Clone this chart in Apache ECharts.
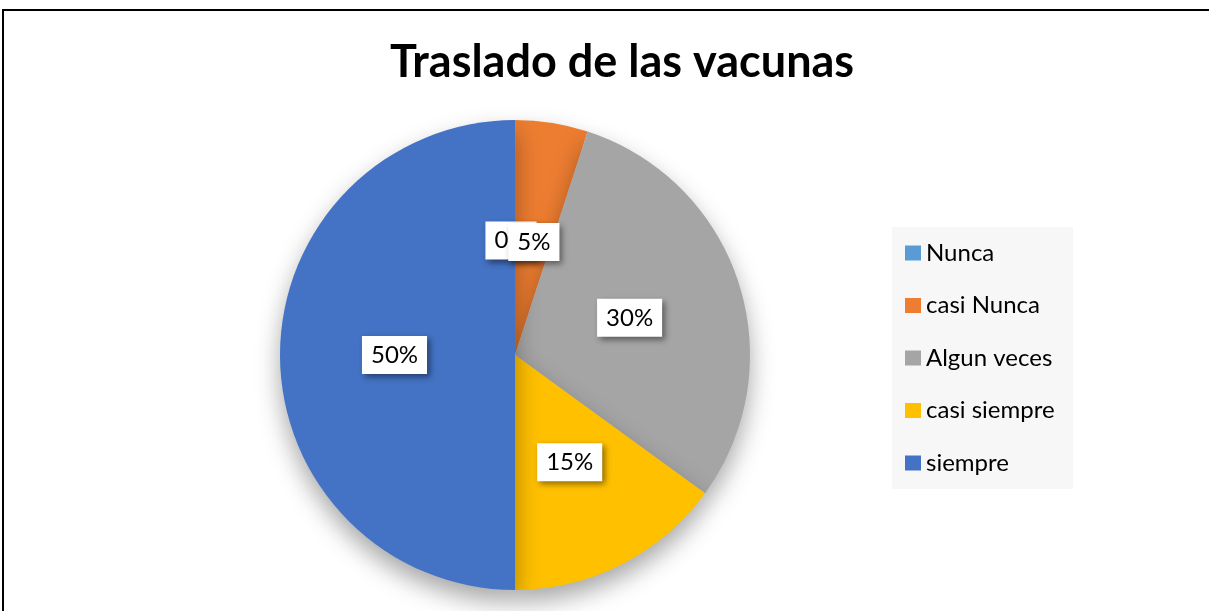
<!DOCTYPE html>
<html>
<head>
<meta charset="utf-8">
<script src="https://cdn.jsdelivr.net/npm/echarts@6/dist/echarts.min.js"></script>
<style>html,body{margin:0;padding:0;background:#fff}#c{width:1209px;height:611px}</style>
</head>
<body>
<div id="c"></div>
<script>
const categories = ['Nunca', 'casi Nunca', 'Algun veces', 'casi siempre', 'siempre'];
const values = [0, 5, 30, 15, 50];
const colors = ['#5B9BD5', '#ED7D31', '#A5A5A5', '#FFC000', '#4472C4'];
const labelOffsets = [[-4, 6], [0, 6], [0, 0], [0, 0], [0, 0]];
const FONT = 'Lato';

const chart = echarts.init(document.getElementById('c'));
chart.setOption({
  animation: false,
  title: {
    text: 'Traslado de las vacunas',
    left: 617, top: 35, textAlign: 'center',
    textStyle: {fontFamily: FONT, fontSize: 45, fontWeight: 'bold', color: '#000'}
  },
  graphic: [
    {type: 'rect', shape: {x: 3, y: 10, width: 1300, height: 700}, style: {fill: 'none', stroke: '#000', lineWidth: 2}, z: 100},
    {type: 'rect', shape: {x: 892, y: 227, width: 181, height: 262}, style: {fill: '#f7f7f7'}, z: -1}
  ],
  legend: {
    orient: 'vertical', left: 892, top: 241,
    padding: [0, 0, 0, 13],
    itemWidth: 16, itemHeight: 15, itemGap: 28.5,
    icon: 'rect',
    data: categories,
    textStyle: {fontFamily: FONT, fontSize: 24, color: '#000', lineHeight: 24}
  },
  series: [{
    type: 'pie',
    center: [515, 355], radius: 235,
    startAngle: 90, clockwise: true,
    minAngle: 0.01,
    minShowLabelAngle: 0,
    avoidLabelOverlap: false,
    labelLayout: {hideOverlap: false},
    percentPrecision: 0,
    itemStyle: {shadowBlur: 25, shadowOffsetY: 12, shadowColor: 'rgba(0,0,0,0.35)'},
    label: {
      show: true, position: 'inside', formatter: '{d}%',
      fontFamily: FONT, fontSize: 24, color: '#000', lineHeight: 24,
      backgroundColor: '#fff', padding: [7, 9, 7, 9],
      shadowBlur: 6, shadowOffsetX: 3, shadowOffsetY: 3, shadowColor: 'rgba(0,0,0,0.45)'
    },
    labelLine: {show: false},
    emphasis: {disabled: true},
    data: categories.map((n, i) => ({
      name: n, value: values[i],
      itemStyle: {color: colors[i]},
      label: {offset: labelOffsets[i]}
    }))
  }]
});
</script>
</body>
</html>
